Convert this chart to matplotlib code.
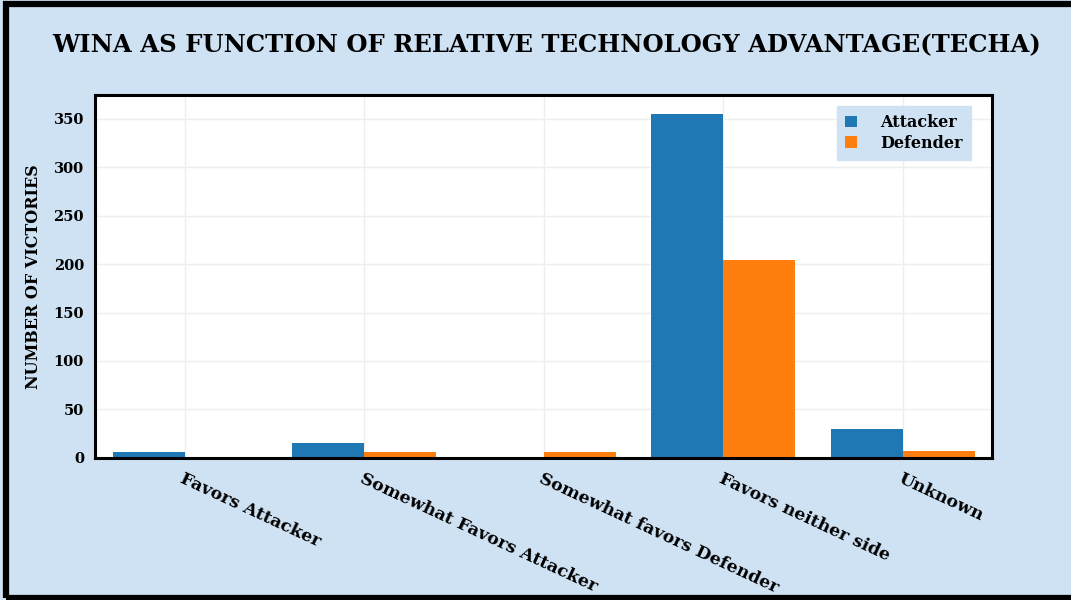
import matplotlib.pyplot as plt
import numpy as np
from matplotlib.patches import Rectangle

categories = ['Favors Attacker', 'Somewhat Favors Attacker', 'Somewhat favors Defender',
              'Favors neither side', 'Unknown']
attacker = [6, 15, 0, 355, 30]
defender = [0, 6, 6, 204, 7]
yticks = [0, 50, 100, 150, 200, 250, 300, 350]

bg = '#cfe2f3'
fnt = 'DejaVu Serif'

fig = plt.figure(figsize=(10.71, 6.0), dpi=100)
fig.patch.set_facecolor(bg)
ax = fig.add_axes([0.0887, 0.237, 0.838, 0.605])
ax.set_facecolor('white')

x = np.arange(len(categories))
w = 0.4
ax.bar(x - w/2, attacker, w, color='#1f77b4', label='Attacker', zorder=3)
ax.bar(x + w/2, defender, w, color='#ff7f0e', label='Defender', zorder=3)

ax.set_xlim(-0.5, len(categories) - 0.5)
ax.set_ylim(0, 375)
ax.set_yticks(yticks)
ax.set_yticklabels([str(v) for v in yticks], fontfamily=fnt, fontweight='bold', fontsize=10.5)
ax.set_xticks(x)
ax.set_xticklabels(categories, rotation=-25, ha='left', va='top', rotation_mode='anchor',
                   fontfamily=fnt, fontweight='bold', fontsize=12.5)
ax.tick_params(axis='y', length=0, pad=8)
ax.tick_params(axis='x', length=0, pad=9)
ax.grid(True, color='#eeeeee', linewidth=1, zorder=0)
for s in ax.spines.values():
    s.set_color('black')
    s.set_linewidth(2.2)
    s.set_zorder(5)

ax.set_ylabel('NUMBER OF VICTORIES', fontfamily=fnt, fontweight='bold', fontsize=11.5, labelpad=8)
fig.text(0.51, 0.925, 'WINA AS FUNCTION OF RELATIVE TECHNOLOGY ADVANTAGE(TECHA)',
         ha='center', va='center', fontfamily=fnt, fontweight='bold', fontsize=17.5)

leg = ax.legend(loc='upper right', bbox_to_anchor=(0.985, 0.99), frameon=True, fancybox=False,
                prop={'family': fnt, 'weight': 'bold', 'size': 11.5},
                handlelength=0.7, handleheight=0.7, borderpad=0.5, labelspacing=0.2,
                handletextpad=1.5)
leg.get_frame().set_facecolor(bg)
leg.get_frame().set_edgecolor(bg)
leg.get_frame().set_alpha(1)

fig.patches.append(Rectangle((0.006, 0.003), 1.1, 0.99, transform=fig.transFigure,
                             fill=False, edgecolor='black', linewidth=4.5))

fig.savefig('out.png', dpi=100, facecolor=bg)
